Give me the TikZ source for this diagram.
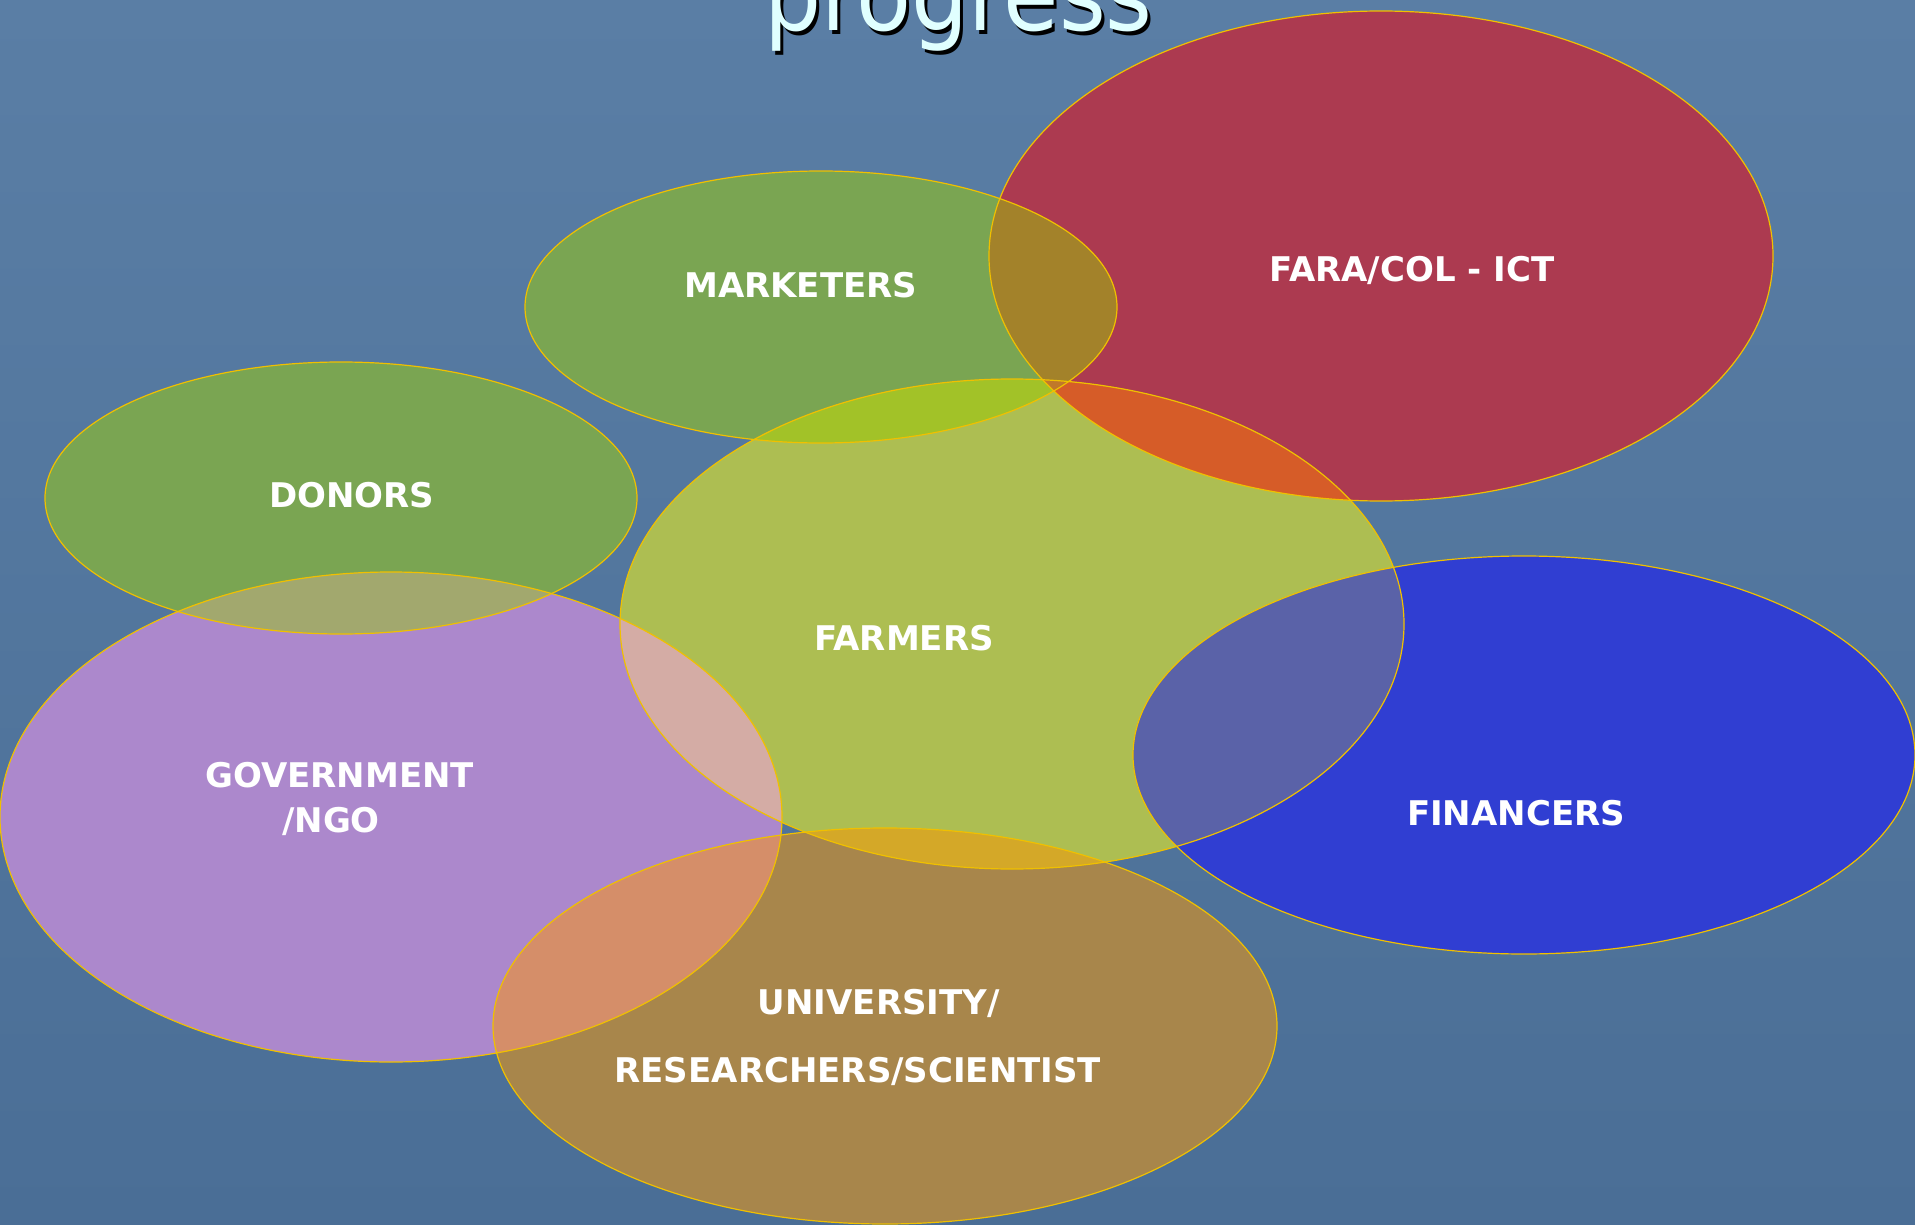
\documentclass[tikz,border=0pt]{standalone}
\usepackage{fontspec}
\setmainfont{DejaVu Sans}
\definecolor{bgtop}{HTML}{5A7EA5}
\definecolor{bgbot}{HTML}{4A6E96}
\definecolor{cRed}{HTML}{AC3A50}
\definecolor{cGreen}{HTML}{7AA552}
\definecolor{cFarm}{HTML}{ADBE52}
\definecolor{cPurple}{HTML}{AC88CC}
\definecolor{cBlue}{HTML}{303ED2}
\definecolor{cBrown}{HTML}{A8864B}
\definecolor{cMR}{HTML}{A3822A}
\definecolor{cMF}{HTML}{A2C228}
\definecolor{cRF}{HTML}{D65C28}
\definecolor{cMRF}{HTML}{C0782A}
\definecolor{cFB}{HTML}{5A62A8}
\definecolor{cDP}{HTML}{A2A86E}
\definecolor{cPF}{HTML}{D4ACA5}
\definecolor{cPB}{HTML}{D58E69}
\definecolor{cFU}{HTML}{D4A828}
\definecolor{rimc}{HTML}{F0C000}
\definecolor{titlec}{HTML}{E0FFFF}
\begin{document}
\begin{tikzpicture}[x=1pt,y=-1pt,
  eRed/.style={insert path={(1381,256) ellipse [x radius=392pt, y radius=245pt]}},
  eMkt/.style={insert path={(821,307) ellipse [x radius=296pt, y radius=136pt]}},
  eDon/.style={insert path={(341,498) ellipse [x radius=296pt, y radius=136pt]}},
  eFarm/.style={insert path={(1012,624) ellipse [x radius=392pt, y radius=245pt]}},
  eBlue/.style={insert path={(1524,755) ellipse [x radius=391pt, y radius=199pt]}},
  ePur/.style={insert path={(391,817) ellipse [x radius=391pt, y radius=245pt]}},
  eUni/.style={insert path={(885,1026) ellipse [x radius=392pt, y radius=198pt]}},
  rim/.style={draw=rimc, line width=1.2pt},
  lbl/.style={text=white, font=\fontsize{34}{34}\selectfont\bfseries, inner sep=0pt, anchor=base},
  ttl/.style={font=\fontsize{100}{100}\selectfont, inner sep=0pt, anchor=base}]
\useasboundingbox (0,0) rectangle (1915,1225);
\clip (0,0) rectangle (1915,1225);
\shade[top color=bgtop, bottom color=bgbot] (0,0) rectangle (1915,1225);
% title
\node[ttl, text=black] (titleshadow) at (961.5,34.5) {\scalebox{0.9}[1]{progress}};
\node[ttl, text=titlec] (title) at (958.5,31) {\scalebox{0.9}[1]{progress}};
% base fills
\fill[cRed, eRed];
\fill[cGreen, eMkt];
\fill[cGreen, eDon];
\fill[cFarm, eFarm];
\fill[cBlue, eBlue];
\fill[cPurple, ePur];
\fill[cBrown, eUni];
% overlaps
\begin{scope}\clip[eMkt]; \fill[cMR, eRed];\end{scope}
\begin{scope}\clip[eMkt]; \fill[cMF, eFarm];\end{scope}
\begin{scope}\clip[eRed]; \fill[cRF, eFarm];\end{scope}
\begin{scope}\clip[eMkt]; \clip[eRed]; \fill[cMRF, eFarm];\end{scope}
\begin{scope}\clip[eFarm]; \fill[cFB, eBlue];\end{scope}
\begin{scope}\clip[eDon]; \fill[cDP, ePur];\end{scope}
\begin{scope}\clip[ePur]; \fill[cPF, eFarm];\end{scope}
\begin{scope}\clip[ePur]; \fill[cPB, eUni];\end{scope}
\begin{scope}\clip[eFarm]; \fill[cFU, eUni];\end{scope}
% outlines
\draw[rim, eRed];
\draw[rim, eMkt];
\draw[rim, eDon];
\draw[rim, eFarm];
\draw[rim, eBlue];
\draw[rim, ePur];
\draw[rim, eUni];
% labels
\node[lbl] (mkt) at (800.8,298) {MARKETERS};
\node[lbl] (fara) at (1412,282) {FARA/COL - ICT};
\node[lbl] (don) at (351.8,507) {DONORS};
\node[lbl] (farm) at (904,650) {FARMERS};
\node[lbl] (gov) at (339.5,787) {GOVERNMENT};
\node[lbl] (ngo) at (331,832) {/NGO};
\node[lbl] (fin) at (1516,825.5) {FINANCERS};
\node[lbl] (uni) at (878.8,1014) {UNIVERSITY/};
\node[lbl] (res) at (857.9,1082) {RESEARCHERS/SCIENTIST};
\end{tikzpicture}
\end{document}
